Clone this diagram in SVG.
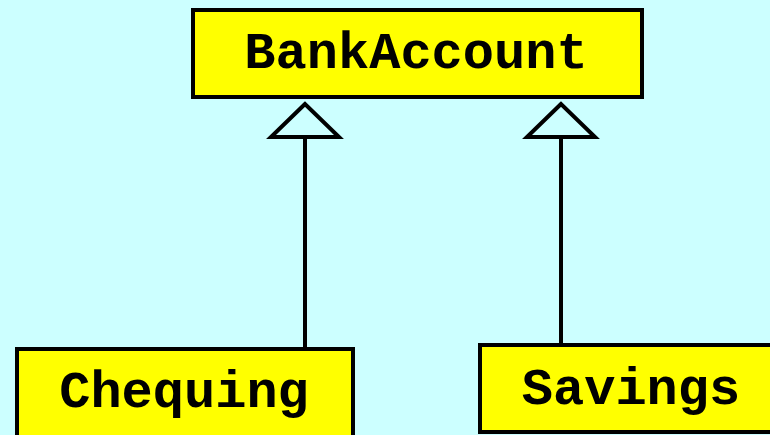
<svg xmlns="http://www.w3.org/2000/svg" width="770" height="435" viewBox="0 0 770 435">
  <style>
    .box { fill: #ffff00; stroke: #000; stroke-width: 4; }
    .label { font-family: "Liberation Mono", "Courier New", monospace; font-weight: bold; font-size: 52px; fill: #000; text-anchor: middle; }
    .edge { stroke: #000; stroke-width: 4; fill: none; }
    .head { fill: #ccffff; stroke: #000; stroke-width: 4; }
  </style>
  <rect width="770" height="435" fill="#ccffff"/>

  <g id="connectors">
    <line class="edge" x1="305" y1="137" x2="305" y2="347"/>
    <polygon class="head" points="305,104 271,137 339,137"/>
    <line class="edge" x1="561" y1="137" x2="561" y2="344"/>
    <polygon class="head" points="561,104 527,137 595,137"/>
  </g>

  <g id="BankAccount">
    <rect class="box" x="193" y="10" width="449" height="87"/>
    <text class="label" x="416" y="68">BankAccount</text>
  </g>

  <g id="Chequing">
    <rect class="box" x="17" y="349" width="336" height="95"/>
    <text class="label" x="184" y="407">Chequing</text>
  </g>

  <g id="Savings">
    <rect class="box" x="480" y="345" width="300" height="87"/>
    <text class="label" x="631" y="404">Savings</text>
  </g>
</svg>
